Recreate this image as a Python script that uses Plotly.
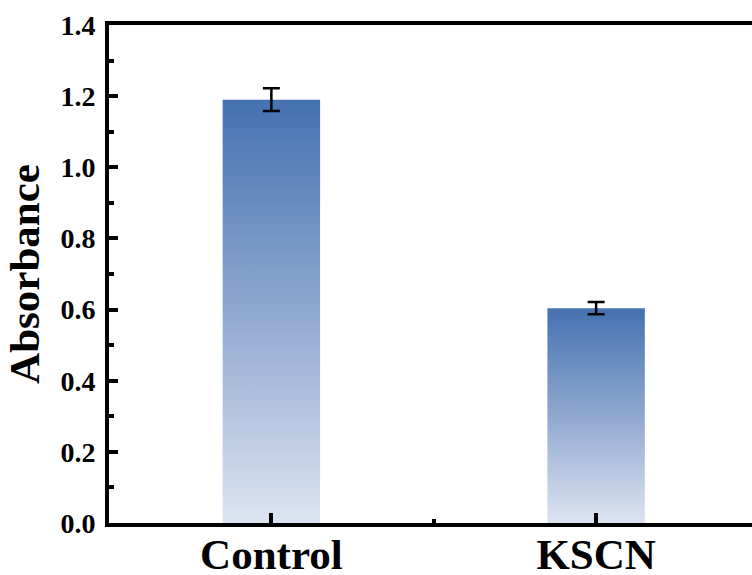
import plotly.graph_objects as go

# Absorbance readings per treatment group
groups = ["Control", "KSCN"]
absorbance = [1.19, 0.604]
abs_err = [0.032, 0.017]

y_ticks = [0.0, 0.2, 0.4, 0.6, 0.8, 1.0, 1.2, 1.4]

bar_width = 0.3
top_color = "#4571B1"
bottom_color = "#DCE4F2"
font_family = "Liberation Serif"

fig = go.Figure()

# Each bar drawn as a filled rectangle so it can carry a vertical gradient
for i, (name, val) in enumerate(zip(groups, absorbance)):
    x0, x1 = i - bar_width / 2, i + bar_width / 2
    fig.add_trace(go.Scatter(
        x=[x0, x1, x1, x0, x0],
        y=[0, 0, val, val, 0],
        mode="lines",
        line=dict(width=0),
        fill="toself",
        fillgradient=dict(
            type="vertical",
            colorscale=[[0, bottom_color], [0.5, "#90A8CF"], [1, top_color]],
        ),
        hoverinfo="skip",
        showlegend=False,
        name=name,
    ))

# Error bars on top of the bars
fig.add_trace(go.Scatter(
    x=list(range(len(groups))),
    y=absorbance,
    mode="markers",
    marker=dict(size=1, color="rgba(0,0,0,0)"),
    error_y=dict(type="data", array=abs_err, visible=True,
                 color="black", thickness=2.5, width=8.5),
    showlegend=False,
))

fig.update_layout(
    width=752,
    height=575,
    margin=dict(l=109, r=0, t=25, b=52),
    paper_bgcolor="white",
    plot_bgcolor="white",
    font=dict(family=font_family, color="black"),
    xaxis=dict(
        range=[-0.5, 1.48],
        automargin=False,
        tickvals=list(range(len(groups))),
        ticktext=groups,
        ticks="inside",
        ticklen=10,
        tickwidth=4,
        tickcolor="black",
        ticklabelstandoff=-10,
        showline=True,
        linecolor="black",
        linewidth=4,
        mirror=True,
        showgrid=False,
        zeroline=False,
        tickfont=dict(size=43, family=font_family, color="black", weight="bold"),
        minor=dict(tickvals=[0.5], ticks="inside", ticklen=4, tickwidth=4, tickcolor="black"),
    ),
    yaxis=dict(
        range=[0, 1.4],
        automargin=False,
        tickvals=y_ticks,
        ticktext=[f"{v:.1f}" for v in y_ticks],
        ticks="inside",
        ticklen=9,
        tickwidth=3.5,
        tickcolor="black",
        ticklabelstandoff=4,
        showline=True,
        linecolor="black",
        linewidth=4,
        showgrid=False,
        zeroline=False,
        tickfont=dict(size=28, family=font_family, color="black", weight="bold"),
        minor=dict(dtick=0.1, tick0=0.1, ticks="inside", ticklen=5, tickwidth=3.5, tickcolor="black"),
        title=dict(text="Absorbance", font=dict(size=43, family=font_family, color="black", weight="bold"),
                   standoff=8),
    ),
)

fig.write_html("out.html")
